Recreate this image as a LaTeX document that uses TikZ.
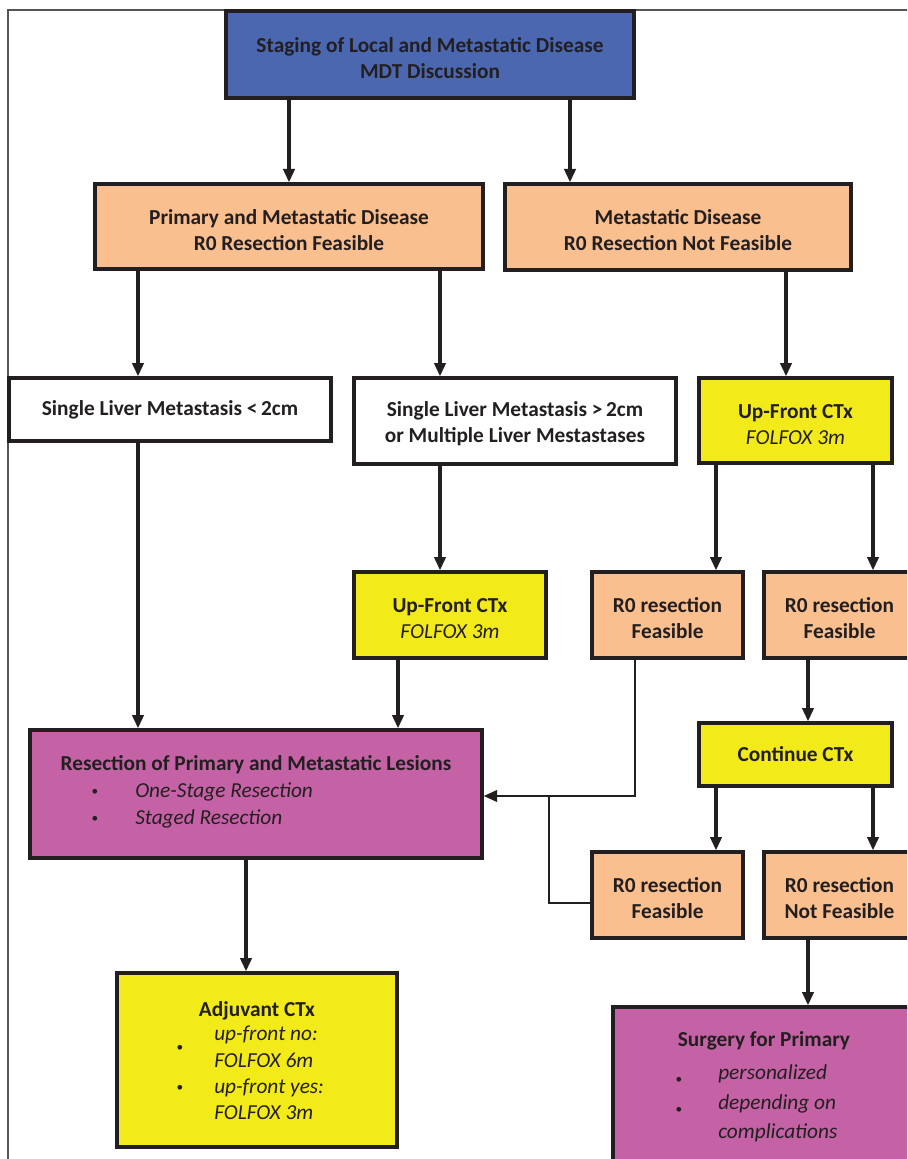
\documentclass[tikz,border=0pt]{standalone}
\usepackage{fontspec}
\setmainfont{Carlito}
\usetikzlibrary{arrows.meta}
\definecolor{cblue}{HTML}{4B67B0}
\definecolor{cpeach}{HTML}{F9BF8F}
\definecolor{cyellow}{HTML}{F2EA19}
\definecolor{cmag}{HTML}{C462A5}
\definecolor{cline}{HTML}{231F20}
\definecolor{cframe}{HTML}{555555}
\newcommand\myarrow[3]{\coordinate (ax) at (#3,0); \draw[arr] (#1.south -| ax) -- (#2.north -| ax);}
\newcommand\lift{\rule{0pt}{16pt}}
\begin{document}
\begin{tikzpicture}[x=0.75pt,y=-0.75pt,
  wh/.style 2 args={minimum width=#1*0.75pt, minimum height=#2*0.75pt},
  bx/.style={draw=cline, line width=2.5pt, align=center, text=cline,
    font=\bfseries\fontsize{16}{19.5}\selectfont, inner sep=0pt},
  arr/.style={draw=cline, line width=2.4pt, -{Triangle[length=10pt,width=8.5pt]}},
  thinarr/.style={draw=cline, line width=1.9pt, -{Triangle[length=10pt,width=8.5pt]}},
  thinline/.style={draw=cline, line width=1.9pt},
  txt/.style={text=cline, font=\fontsize{16}{19.5}\selectfont\itshape, inner sep=0pt},
  ttl/.style={text=cline, font=\bfseries\fontsize{16}{19.5}\selectfont, inner sep=0pt},
  bul/.style={text=cline, font=\fontsize{10}{10}\selectfont, inner sep=0pt}]
\useasboundingbox (0,0) rectangle (907,1159);
\clip (0,0) rectangle (907,1159);
\draw[cframe, line width=0.9pt] (8,1170) -- (8,10) -- (920,10);

\node[bx, fill=cblue, wh={408}{87}] (top) at (430,54.5) {\lift Staging of Local and Metastatic Disease\\MDT Discussion};
\node[bx, fill=cpeach, wh={388}{85}] (prim) at (289,226.5) {\lift Primary and Metastatic Disease\\R0 Resection Feasible};
\node[bx, fill=cpeach, wh={346}{86}] (meta) at (678,227) {\lift Metastatic Disease\\R0 Resection Not Feasible};
\node[bx, fill=white, wh={322}{63}] (single1) at (170,409.5) {Single Liver Metastasis <\,2cm};
\node[bx, fill=white, wh={322}{86}] (single2) at (515,421) {\lift Single Liver Metastasis >\,2cm\\or Multiple Liver Mestastases};
\node[bx, fill=cyellow, wh={193}{85}] (ufr) at (795.5,420.5) {\lift Up-Front CTx\\\mdseries\itshape FOLFOX 3m};
\node[bx, fill=cyellow, wh={192}{86}] (ufm) at (450,615) {\lift Up-Front CTx\\\mdseries\itshape FOLFOX 3m};
\node[bx, fill=cpeach, wh={151}{86}] (r0a) at (667.5,615) {\lift R0 resection\\Feasible};
\node[bx, fill=cpeach, wh={151}{86}] (r0b) at (839.5,615) {\lift R0 resection\\Feasible};
\node[bx, fill=cyellow, wh={193}{63}] (cont) at (795.5,754.5) {Continue CTx};
\node[bx, fill=cpeach, wh={151}{86}] (r0c) at (667.5,895) {\lift R0 resection\\Feasible};
\node[bx, fill=cpeach, wh={151}{86}] (r0d) at (839.5,895) {\lift R0 resection\\Not Feasible};
\node[bx, fill=cmag, wh={452}{128}] (resect) at (256,794) {};
\node[bx, fill=cyellow, wh={280}{174}] (adj) at (257,1060) {};
\node[bx, fill=cmag, wh={302}{180}] (surg) at (764,1097) {};

% texts inside bullet boxes
\node[ttl] (resectT) at (256,765) {Resection of Primary and Metastatic Lesions};
\node[bul] (rb1) at (95,792) {\textbullet};
\node[bul] (rb2) at (95,819) {\textbullet};
\node[txt, anchor=west] (rt1) at (135,792) {One-Stage Resection};
\node[txt, anchor=west] (rt2) at (135,819) {Staged Resection};

\node[ttl] (adjT) at (257,1011) {Adjuvant CTx};
\node[bul] (ab1) at (180,1048) {\textbullet};
\node[bul] (ab2) at (180,1088) {\textbullet};
\node[txt, anchor=west] (at1) at (214,1035) {up-front no:};
\node[txt, anchor=west] (at2) at (214,1060) {FOLFOX 6m};
\node[txt, anchor=west] (at3) at (214,1088) {up-front yes:};
\node[txt, anchor=west] (at4) at (214,1113) {FOLFOX 3m};

\node[ttl] (surgT) at (764,1041) {Surgery for Primary};
\node[bul] (sb1) at (679,1080) {\textbullet};
\node[bul] (sb2) at (679,1110) {\textbullet};
\node[txt, anchor=west] (st1) at (718,1074) {personalized};
\node[txt, anchor=west] (st2) at (718,1104) {depending on};
\node[txt, anchor=west] (st3) at (718,1133) {complications};

% arrows
\myarrow{top}{prim}{289}
\myarrow{top}{meta}{570}
\myarrow{prim}{single1}{138}
\myarrow{prim}{single2}{440}
\myarrow{meta}{ufr}{786}
\myarrow{single2}{ufm}{440}
\myarrow{ufr}{r0a}{716}
\myarrow{ufr}{r0b}{873}
\myarrow{single1}{resect}{138}
\myarrow{ufm}{resect}{398}
\myarrow{r0b}{cont}{808}
\myarrow{cont}{r0c}{716}
\myarrow{cont}{r0d}{873}
\myarrow{r0d}{surg}{808}
\myarrow{resect}{adj}{246}

\coordinate (ja) at (635,796);
\coordinate (jb) at (549,796);
\coordinate (jc) at (549,903);
\draw[thinarr] (r0a.south -| ja) -- (ja) -- (resect.east |- ja);
\draw[thinline] (jc -| r0c.west) -- (jc) -- (jb);
\end{tikzpicture}
\end{document}
